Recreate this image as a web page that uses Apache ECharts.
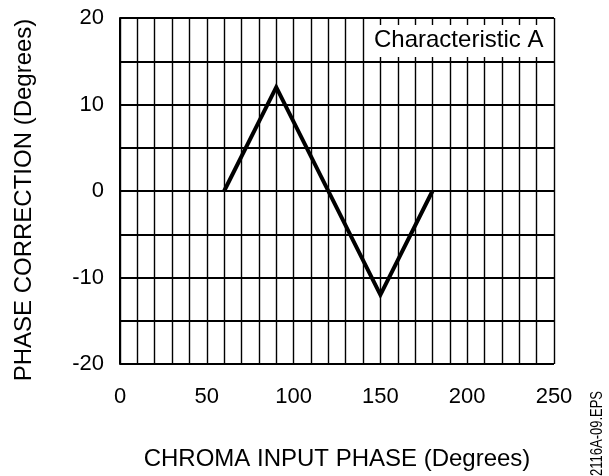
<!DOCTYPE html>
<html>
<head>
<meta charset="utf-8">
<script src="https://cdn.jsdelivr.net/npm/echarts@6/dist/echarts.min.js"></script>
<style>
html,body{margin:0;padding:0;background:#fff;}
#c{width:609px;height:476px;}
</style>
</head>
<body>
<div id="c"></div>
<script>
// Data
const inputPhase = [60, 90, 150, 180];
const phaseCorrection = [0, 12, -12, 0];
const xTicks = [0, 50, 100, 150, 200, 250];
const yTicks = [-20, -10, 0, 10, 20];
const xTitle = 'CHROMA INPUT PHASE (Degrees)';
const yTitle = 'PHASE CORRECTION (Degrees)';
const legendText = 'Characteristic A';
const figId = '2116A-09.EPS';

const FONT = '"Liberation Sans", Arial, Helvetica, sans-serif';
const chart = echarts.init(document.getElementById('c'), null, {renderer: 'canvas'});

const points = inputPhase.map((x, i) => [x, phaseCorrection[i]]);

chart.setOption({
  animation: false,
  backgroundColor: '#fff',
  grid: {left: 120, right: 55, top: 18, bottom: 111, containLabel: false},
  xAxis: {
    type: 'value', min: 0, max: 250, interval: 10,
    name: xTitle, nameLocation: 'middle', nameGap: 83,
    nameTextStyle: {color: '#000', fontSize: 24, fontFamily: FONT},
    axisLine: {show: true, lineStyle: {color: '#000', width: 2}},
    axisTick: {show: false},
    axisLabel: {
      color: '#000', fontSize: 22, fontFamily: FONT, margin: 22,
      formatter: v => xTicks.includes(v) ? String(v) : ''
    },
    splitLine: {show: true, lineStyle: {color: '#000', width: 1.4}}
  },
  yAxis: {
    type: 'value', min: -20, max: 20, interval: 5,
    name: yTitle, nameLocation: 'middle', nameGap: 84, nameRotate: 90,
    nameTextStyle: {color: '#000', fontSize: 24, fontFamily: FONT, padding: [0, 18, 0, 0]},
    axisLine: {show: true, lineStyle: {color: '#000', width: 2}},
    axisTick: {show: false},
    axisLabel: {
      color: '#000', fontSize: 22, fontFamily: FONT, margin: 16,
      formatter: v => yTicks.includes(v) ? String(v) : ''
    },
    splitLine: {show: true, lineStyle: {color: '#000', width: 1.8}}
  },
  series: [{
    type: 'line',
    data: points,
    symbol: 'none',
    lineStyle: {color: '#000', width: 4, join: 'miter'},
    z: 5
  }],
  graphic: [
    {
      type: 'rect', left: 368, top: 25,
      shape: {width: 183, height: 32},
      style: {fill: '#fff'}, z: 10
    },
    {
      type: 'text', left: 374, top: 28,
      style: {text: legendText, fill: '#000', fontSize: 24, fontFamily: FONT},
      z: 11
    },
    {
      type: 'text', x: 606, y: 476, rotation: Math.PI / 2, scaleY: 1.3,
      style: {text: figId, fill: '#000', fontSize: 13, fontFamily: FONT, align: 'left', verticalAlign: 'bottom'},
      z: 11
    }
  ]
});
</script>
</body>
</html>
